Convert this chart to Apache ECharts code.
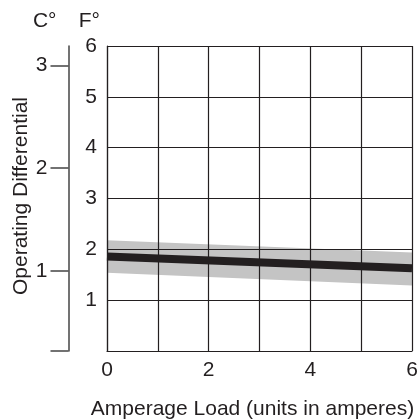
<!DOCTYPE html>
<html>
<head>
<meta charset="utf-8">
<script src="https://cdn.jsdelivr.net/npm/echarts@6/dist/echarts.min.js"></script>
<style>
  html, body { margin: 0; padding: 0; background: #fff; }
  #main { width: 420px; height: 419px; }
</style>
</head>
<body>
<div id="main"></div>
<script>
var amperes = [0, 6];
var differential = [1.86, 1.63];
var bandLow = [1.54, 1.29];
var bandHigh = [2.18, 1.94];
var xLabels = [0, 2, 4, 6];
var fahrenheitLabels = [1, 2, 3, 4, 5, 6];
var celsiusLabels = [1, 2, 3];

var ink = '#231f20';
var font = 'Liberation Sans, Arial, sans-serif';

var myChart = echarts.init(document.getElementById('main'));

function pairs(ys) {
	return amperes.map(function (x, i) { return [x, ys[i]]; });
}

// gray tolerance band as one polygon: along the top edge, back along the bottom
function renderBand(params, api) {
	if (params.dataIndex !== 0) return;
	var pts = [];
	for (var i = 0; i < amperes.length; i++) pts.push(api.coord([amperes[i], bandHigh[i]]));
	for (var j = amperes.length - 1; j >= 0; j--) pts.push(api.coord([amperes[j], bandLow[j]]));
	return {
		type: 'polygon',
		shape: { points: pts },
		style: { fill: '#c4c4c4' }
	};
}

option = {
	animation: false,
	textStyle: { fontFamily: font, color: ink },
	grid: {
		left: 107,
		right: 8,
		top: 46,
		bottom: 68,
		containLabel: false,
		outerBoundsMode: 'none'
	},
	xAxis: {
		type: 'value',
		min: 0,
		max: 6,
		interval: 1,
		name: 'Amperage Load (units in amperes)',
		nameLocation: 'middle',
		nameGap: 48,
		nameTextStyle: { fontSize: 21, color: ink, fontFamily: font, padding: [0, 14, 0, 0] },
		axisLine: { show: true, lineStyle: { color: ink, width: 1.2 } },
		axisTick: { show: false },
		axisLabel: {
			customValues: xLabels,
			fontSize: 21,
			color: ink,
			fontFamily: font,
			margin: 9
		},
		splitLine: { show: true, lineStyle: { color: ink, width: 1.2 } }
	},
	yAxis: [
		{
			type: 'value',
			position: 'left',
			min: 0,
			max: 6,
			interval: 1,
			name: 'F°',
			nameLocation: 'end',
			nameGap: 14,
			nameTextStyle: { fontSize: 21, color: ink, fontFamily: font, align: 'right', padding: [0, 7, 0, 0] },
			axisLine: { show: true, lineStyle: { color: ink, width: 1.2 } },
			axisTick: { show: false },
			axisLabel: { customValues: fahrenheitLabels, fontSize: 21, color: ink, fontFamily: font, margin: 10 },
			splitLine: { show: true, lineStyle: { color: ink, width: 1.2 } }
		},
		{
			type: 'value',
			position: 'left',
			offset: 38.5,
			min: 0.22,
			max: 3.19,
			name: 'C°',
			nameLocation: 'end',
			nameGap: 14,
			nameTextStyle: { fontSize: 21, color: ink, fontFamily: font, align: 'right', padding: [0, 12, 0, 0] },
			axisLine: { show: true, lineStyle: { color: '#444', width: 1.5 } },
			axisTick: {
				show: true,
				customValues: [0.22].concat(celsiusLabels),
				length: 18,
				lineStyle: { color: '#444', width: 1.5 }
			},
			axisLabel: {
				customValues: celsiusLabels,
				fontSize: 21,
				color: ink,
				fontFamily: font,
				margin: 21
			},
			splitLine: { show: false }
		}
	],
	graphic: [
		{
			type: 'text',
			left: 11,
			top: 97,
			rotation: Math.PI / 2,
			style: {
				text: 'Operating Differential',
				fontSize: 21,
				fontFamily: font,
				fill: ink
			}
		}
	],
	series: [
		{
			name: 'band',
			type: 'custom',
			renderItem: renderBand,
			data: pairs(bandHigh),
			z: -1,
			silent: true
		},
		{
			name: 'differential',
			type: 'line',
			data: pairs(differential),
			symbol: 'none',
			lineStyle: { color: ink, width: 8 },
			z: 3
		}
	]
};

myChart.setOption(option);
</script>
</body>
</html>
